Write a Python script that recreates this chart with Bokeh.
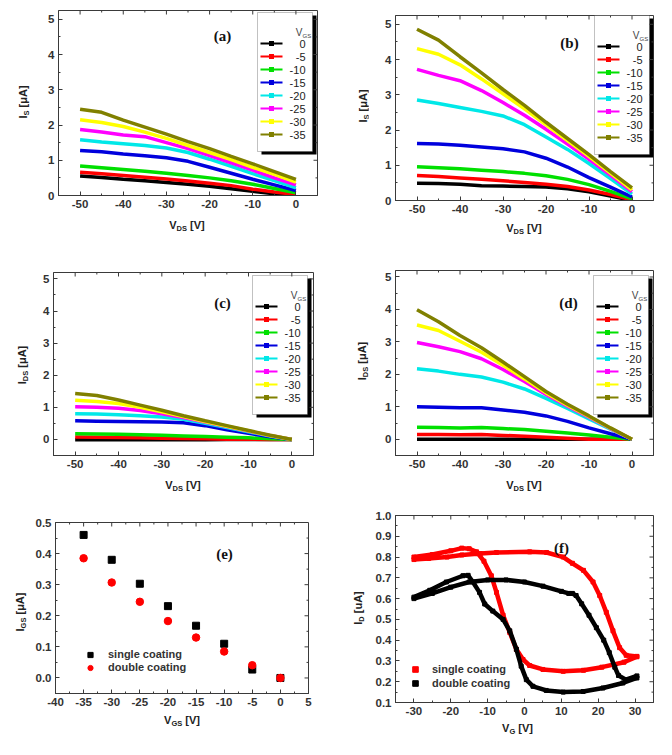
import math
from bokeh.plotting import figure
from bokeh.models import (Range1d, LinearAxis, SingleIntervalTicker, Label, Legend,
                          LegendItem, BoxAnnotation, NumeralTickFormatter, Div)
from bokeh.layouts import column, row
from bokeh.embed import file_html
from bokeh.resources import INLINE

# ---------------- data ----------------
VDS = [-50, -45, -40, -35, -30, -25, -20, -15, -10, -5, 0]
VGS_LABELS = ["0", "-5", "-10", "-15", "-20", "-25", "-30", "-35"]
COLORS = ["#000000", "#ff0000", "#00e000", "#0000dd", "#00e8e8", "#ff00ff", "#ffff00", "#808000"]

IS_A = [
    [0.55, 0.51, 0.46, 0.42, 0.37, 0.32, 0.26, 0.19, 0.12, 0.05, 0.0],
    [0.66, 0.62, 0.57, 0.52, 0.47, 0.41, 0.35, 0.28, 0.18, 0.10, 0.03],
    [0.84, 0.79, 0.74, 0.69, 0.63, 0.57, 0.50, 0.42, 0.32, 0.20, 0.08],
    [1.28, 1.24, 1.18, 1.13, 1.07, 0.97, 0.80, 0.63, 0.46, 0.30, 0.14],
    [1.58, 1.52, 1.47, 1.42, 1.35, 1.22, 1.03, 0.83, 0.62, 0.42, 0.22],
    [1.87, 1.80, 1.72, 1.67, 1.50, 1.33, 1.13, 0.93, 0.72, 0.50, 0.30],
    [2.15, 2.07, 1.96, 1.80, 1.62, 1.42, 1.22, 1.02, 0.80, 0.60, 0.38],
    [2.45, 2.36, 2.14, 1.94, 1.74, 1.53, 1.33, 1.11, 0.90, 0.68, 0.46],
]
IS_B = [
    [0.49, 0.48, 0.46, 0.42, 0.41, 0.40, 0.38, 0.33, 0.25, 0.13, 0.0],
    [0.71, 0.68, 0.64, 0.60, 0.56, 0.51, 0.46, 0.40, 0.30, 0.17, 0.02],
    [0.96, 0.93, 0.90, 0.86, 0.82, 0.77, 0.70, 0.60, 0.45, 0.26, 0.05],
    [1.62, 1.60, 1.57, 1.52, 1.47, 1.38, 1.20, 0.95, 0.65, 0.38, 0.10],
    [2.85, 2.75, 2.64, 2.53, 2.40, 2.15, 1.80, 1.45, 1.05, 0.62, 0.18],
    [3.72, 3.55, 3.40, 3.12, 2.78, 2.42, 2.02, 1.60, 1.17, 0.72, 0.25],
    [4.31, 4.15, 3.85, 3.45, 3.03, 2.60, 2.15, 1.70, 1.25, 0.78, 0.30],
    [4.86, 4.55, 4.08, 3.62, 3.15, 2.70, 2.22, 1.76, 1.30, 0.82, 0.36],
]
IDS_C = [
    [-0.01, -0.01, -0.01, -0.01, -0.01, -0.01, -0.01, 0.0, 0.0, 0.0, 0.0],
    [0.08, 0.07, 0.06, 0.05, 0.04, 0.03, 0.02, 0.01, 0.005, 0.0, 0.0],
    [0.18, 0.17, 0.16, 0.15, 0.13, 0.11, 0.09, 0.07, 0.05, 0.02, 0.0],
    [0.58, 0.57, 0.56, 0.55, 0.54, 0.52, 0.43, 0.30, 0.19, 0.08, 0.0],
    [0.80, 0.79, 0.77, 0.74, 0.70, 0.63, 0.50, 0.37, 0.24, 0.11, 0.0],
    [1.02, 1.00, 0.97, 0.90, 0.80, 0.68, 0.54, 0.40, 0.26, 0.12, 0.0],
    [1.22, 1.18, 1.12, 1.00, 0.86, 0.71, 0.56, 0.41, 0.27, 0.12, 0.0],
    [1.43, 1.37, 1.23, 1.07, 0.91, 0.74, 0.58, 0.43, 0.28, 0.13, 0.0],
]
IDS_D = [
    [0.0, 0.0, 0.0, 0.0, 0.0, 0.0, 0.0, 0.0, 0.0, 0.0, 0.0],
    [0.15, 0.15, 0.14, 0.15, 0.12, 0.09, 0.06, 0.03, 0.0, 0.0, 0.0],
    [0.37, 0.36, 0.35, 0.36, 0.33, 0.30, 0.25, 0.19, 0.13, 0.06, 0.0],
    [1.00, 0.99, 0.97, 0.97, 0.90, 0.83, 0.72, 0.55, 0.35, 0.17, 0.0],
    [2.17, 2.10, 2.00, 1.92, 1.76, 1.55, 1.26, 0.95, 0.63, 0.31, 0.0],
    [2.98, 2.85, 2.70, 2.48, 2.15, 1.78, 1.38, 1.02, 0.68, 0.33, 0.0],
    [3.52, 3.35, 3.02, 2.68, 2.28, 1.86, 1.43, 1.05, 0.70, 0.34, 0.0],
    [3.99, 3.62, 3.20, 2.82, 2.38, 1.93, 1.47, 1.08, 0.72, 0.35, 0.0],
]

VGS_E = [-35, -30, -25, -20, -15, -10, -5, 0]
IGS_SINGLE = [0.460, 0.380, 0.303, 0.231, 0.168, 0.110, 0.027, 0.0]
IGS_DOUBLE = [0.385, 0.307, 0.245, 0.183, 0.130, 0.085, 0.041, 0.0]

VG_SINGLE = [-30, -25, -20, -17, -15, -13, -11, -9, -7.6, -5.8, -4, -2.2, -0.4, 1.4, 5, 10.5, 16, 21, 27, 30.5,
             30.5, 27.6, 25.8, 24, 22.2, 20.4, 18.6, 16, 13, 10.5, 6, 1.4, -7.6, -12, -17, -21, -26, -30]
ID_SINGLE = [0.800, 0.812, 0.830, 0.843, 0.840, 0.825, 0.780, 0.710, 0.630, 0.520, 0.437, 0.356, 0.307, 0.278,
             0.259, 0.250, 0.255, 0.270, 0.294, 0.320,
             0.322, 0.327, 0.364, 0.445, 0.534, 0.615, 0.680, 0.736, 0.770, 0.800, 0.822, 0.825, 0.822, 0.817,
             0.810, 0.800, 0.793, 0.788]
VG_DOUBLE = [-30, -25.7, -21.2, -16.7, -15.3, -14, -12.2, -10.8, -8.6, -5.8, -4, -2.2, -0.9, 0.5, 2.3, 5.9, 10.5,
             15.9, 21.3, 26.7, 30.5,
             30.5, 27.5, 25.5, 24.5, 23, 21.5, 19.5, 17.5, 15.5, 14, 13, 12, 10, 5, 0, -5, -10, -15, -20, -25, -30]
ID_DOUBLE = [0.607, 0.640, 0.680, 0.710, 0.712, 0.680, 0.630, 0.574, 0.540, 0.500, 0.445, 0.356, 0.275, 0.210,
             0.178, 0.158, 0.150, 0.153, 0.170, 0.194, 0.218,
             0.228, 0.210, 0.230, 0.270, 0.340, 0.400, 0.460, 0.520, 0.575, 0.615, 0.625, 0.625, 0.635, 0.660,
             0.680, 0.690, 0.690, 0.680, 0.655, 0.625, 0.600]

FONT = "Liberation Sans"
AX = "#3a3a3a"
YT_W = 32  # width of the strip holding the rotated y-axis title


def tick_positions(lo, hi, step):
    majors, minors = [], []
    k0 = math.ceil(lo / (step / 2) - 1e-9)
    k1 = math.floor(hi / (step / 2) + 1e-9)
    for k in range(k0, k1 + 1):
        v = round(k * step / 2, 6)
        if abs(v - lo) < 1e-9 or abs(v - hi) < 1e-9:
            continue
        (majors if k % 2 == 0 else minors).append(v)
    return majors, minors


def make_fig(W, H, HB, L, T, FW, FH, xr, yr, xint, yint, yfmt="0"):
    fw = W - YT_W
    fh = H - HB
    p = figure(width=fw, height=fh, x_range=Range1d(*xr), y_range=Range1d(*yr),
               output_backend="svg", toolbar_location=None,
               x_axis_type=None, y_axis_type=None,
               min_border_left=L - YT_W, min_border_top=T,
               min_border_right=W - L - FW, min_border_bottom=fh - T - FH)
    p.outline_line_color = AX
    p.background_fill_color = "white"
    p.border_fill_color = "white"
    xt = SingleIntervalTicker(interval=xint, num_minor_ticks=2)
    yt = SingleIntervalTicker(interval=yint, num_minor_ticks=2)
    xa = LinearAxis(ticker=xt, formatter=NumeralTickFormatter(format="0"))
    ya = LinearAxis(ticker=yt, formatter=NumeralTickFormatter(format=yfmt))
    for ax in (xa, ya):
        ax.axis_line_color = AX
        ax.major_tick_line_color = AX
        ax.minor_tick_line_color = AX
        ax.major_tick_in = 4
        ax.major_tick_out = 0
        ax.minor_tick_in = 2
        ax.minor_tick_out = 0
        ax.major_label_standoff = 4
        ax.major_label_text_font = FONT
        ax.major_label_text_font_style = "bold"
        ax.major_label_text_font_size = "11.5px"
        ax.major_label_text_color = "#333333"
    p.add_layout(xa, "below")
    p.add_layout(ya, "left")
    # inward tick marks on the top and right frame edges
    x0, x1 = xr
    y0, y1 = yr
    dy = (y1 - y0) / FH
    dx = (x1 - x0) / FW
    xm, xn = tick_positions(x0, x1, xint)
    ym, yn = tick_positions(y0, y1, yint)
    for xs, ln in ((xm, 4), (xn, 2)):
        p.segment(x0=xs, y0=[y1] * len(xs), x1=xs, y1=[y1 - ln * dy] * len(xs), line_color=AX, line_width=1)
    for ys, ln in ((ym, 4), (yn, 2)):
        p.segment(x0=[x1] * len(ys), y0=ys, x1=[x1 - ln * dx] * len(ys), y1=ys, line_color=AX, line_width=1)
    p._spec = (L, T, FH, W, H, HB)
    return p


def title_html(main, sub, rest):
    return (f'{main}<sub style="font-size:7.5px;vertical-align:-2px;">{sub}</sub>&nbsp;{rest}')


def cell(p, main_y, sub_y, rest_y, ycx, ycy, main_x, sub_x, rest_x, xcx, xcy):
    L, T, FH, W, H, HB = p._spec
    base = ("position:absolute;white-space:nowrap;font-family:'Liberation Sans',Arial,sans-serif;"
            "font-weight:bold;font-size:11px;line-height:1;color:#222;")
    yhtml = (f'<div style="position:relative;width:{YT_W}px;height:{H}px;">'
             f'<div style="{base}left:{ycx}px;top:{ycy}px;transform:translate(-50%,-50%) rotate(-90deg);">'
             f'{title_html(main_y, sub_y, rest_y)}</div></div>')
    xhtml = (f'<div style="position:relative;width:{W - YT_W}px;height:{HB}px;">'
             f'<div style="{base}left:{xcx - YT_W}px;top:{xcy - (H - HB)}px;transform:translate(-50%,-50%);">'
             f'{title_html(main_x, sub_x, rest_x)}</div></div>')
    ydiv = Div(text=yhtml, width=YT_W, height=H, margin=0, styles={"overflow": "visible"})
    xdiv = Div(text=xhtml, width=W - YT_W, height=HB, margin=0, styles={"overflow": "visible"})
    return row(ydiv, column(p, xdiv, spacing=0), spacing=0)


def panel_letter(p, txt, cx, cy):
    L, T, FH = p._spec[:3]
    p.add_layout(Label(x=cx - L, y=(T + FH) - cy, text=txt, x_units="screen", y_units="screen",
                       text_font="Liberation Serif", text_font_style="bold", text_font_size="15px",
                       text_color="#111111", text_align="center", text_baseline="middle"))


def vgs_legend(p, bl, bt):
    FH = p._spec[2]
    su = dict(left_units="screen", right_units="screen", top_units="screen", bottom_units="screen")
    p.add_layout(BoxAnnotation(left=bl + 4, right=bl + 59, top=FH - bt - 3, bottom=FH - bt - 142,
                               fill_color="black", fill_alpha=1, line_color=None, level="underlay", **su))
    p.add_layout(BoxAnnotation(left=bl, right=bl + 55, top=FH - bt, bottom=FH - bt - 139,
                               fill_color="white", fill_alpha=1, line_color="#333333", line_width=1,
                               level="underlay", **su))
    for i, (lab, col) in enumerate(zip(VGS_LABELS, COLORS)):
        cy = FH - (bt + 31 + 13 * i)
        p.add_layout(BoxAnnotation(left=bl + 3, right=bl + 25, top=cy + 1, bottom=cy - 1,
                                   fill_color=col, fill_alpha=1, line_color=None, **su))
        p.add_layout(BoxAnnotation(left=bl + 11.5, right=bl + 16.5, top=cy + 2.5, bottom=cy - 2.5,
                                   fill_color=col, fill_alpha=1, line_color=None, **su))
        p.add_layout(Label(x=bl + 48, y=cy, text=lab, x_units="screen", y_units="screen",
                           text_font=FONT, text_font_size="11px", text_color="#222222",
                           text_align="right", text_baseline="middle"))
    p.add_layout(Label(x=bl + 45, y=FH - (bt + 20), text="V", x_units="screen", y_units="screen",
                       text_font=FONT, text_font_size="10px", text_color="#444444",
                       text_align="right", text_baseline="alphabetic"))
    p.add_layout(Label(x=bl + 45, y=FH - (bt + 23.5), text="GS", x_units="screen", y_units="screen",
                       text_font=FONT, text_font_size="6px", text_color="#444444",
                       text_align="left", text_baseline="alphabetic"))


def curves(p, data):
    for ys, col in zip(data, COLORS):
        p.line(VDS, ys, line_color=col, line_width=3.5)


# ---------------- panels a-d ----------------
pa = make_fig(336, 250, 36, 58, 10, 259, 185, (-55, 5), (0, 5.25), 10, 1)
curves(pa, IS_A)
vgs_legend(pa, 199, 2)
panel_letter(pa, "(a)", 222, 35)
ca = cell(pa, "I", "S", "[μA]", 24, 102, "V", "DS", "[V]", 187, 226)

pb = make_fig(336, 250, 31, 59, 15, 258, 185, (-55, 5), (0, 5.25), 10, 1)
curves(pb, IS_B)
vgs_legend(pb, 199, 0)
panel_letter(pb, "(b)", 233, 42)
cb = cell(pb, "I", "S", "[μA]", 28, 106, "V", "DS", "[V]", 188, 229)

pc = make_fig(336, 250, 26, 53, 22, 260, 183, (-55, 5), (-0.5, 5.2), 10, 1)
curves(pc, IDS_C)
vgs_legend(pc, 199, 3)
panel_letter(pc, "(c)", 222, 52)
cc = cell(pc, "I", "DS", "[μA]", 22.5, 115, "V", "DS", "[V]", 183, 236)

pd_ = make_fig(336, 250, 26, 59, 20, 258, 185, (-55, 5), (-0.5, 5.2), 10, 1)
curves(pd_, IDS_D)
vgs_legend(pd_, 198, 5)
panel_letter(pd_, "(d)", 232, 52)
cd = cell(pd_, "I", "DS", "[μA]", 27, 111, "V", "DS", "[V]", 188, 236)

# ---------------- panel e ----------------
pe = make_fig(336, 255, 43, 53, 22, 255, 171, (-40, 5), (-0.05, 0.5), 5, 0.1, yfmt="0.0")
se = pe.scatter(VGS_E, IGS_SINGLE, marker="square", size=7, fill_color="black", line_color="black")
de = pe.scatter(VGS_E, IGS_DOUBLE, marker="circle", size=7.5, fill_color="#ff0000", line_color="#ff0000")
pe.add_layout(Legend(items=[LegendItem(label="single coating", renderers=[se]),
                            LegendItem(label="double coating", renderers=[de])],
                     location=(28, 171 - (132 - 6.5 + 26)), padding=0, margin=0, spacing=0,
                     glyph_width=14, glyph_height=13, label_height=13, label_standoff=11,
                     label_text_font=FONT, label_text_font_style="bold", label_text_font_size="11px",
                     label_text_color="#333333", background_fill_alpha=0, border_line_color=None))
panel_letter(pe, "(e)", 222, 53)
ce = cell(pe, "I", "GS", "[μA]", 21, 112, "V", "GS", "[V]", 182, 221)

# ---------------- panel f ----------------
pf = make_fig(336, 255, 34, 59, 15, 258, 187, (-35, 35), (0.1, 1.0), 10, 0.1, yfmt="0.0")
pf.line(VG_SINGLE, ID_SINGLE, line_color="#ff0000", line_width=4.5)
sf = pf.scatter(VG_SINGLE, ID_SINGLE, marker="square", size=4, fill_color="#ff0000", line_color="#ff0000")
pf.line(VG_DOUBLE, ID_DOUBLE, line_color="#000000", line_width=4.5)
df = pf.scatter(VG_DOUBLE, ID_DOUBLE, marker="square", size=4, fill_color="black", line_color="black")
pf.add_layout(Legend(items=[LegendItem(label="single coating", renderers=[sf]),
                            LegendItem(label="double coating", renderers=[df])],
                     location=(13, 187 - (154 - 7 + 28)), padding=0, margin=0, spacing=0,
                     glyph_width=14, glyph_height=14, label_height=14, label_standoff=10,
                     label_text_font=FONT, label_text_font_style="bold", label_text_font_size="11px",
                     label_text_color="#333333", background_fill_alpha=0, border_line_color=None))
panel_letter(pf, "(f)", 225, 47)
cf = cell(pf, "I", "D", "[uA]", 22.5, 108, "V", "G", "[V]", 181.5, 229)

layout = column(row(ca, cb, spacing=0), row(cc, cd, spacing=0), row(ce, cf, spacing=0), spacing=0)
open("out.html", "w").write(file_html(layout, INLINE))
